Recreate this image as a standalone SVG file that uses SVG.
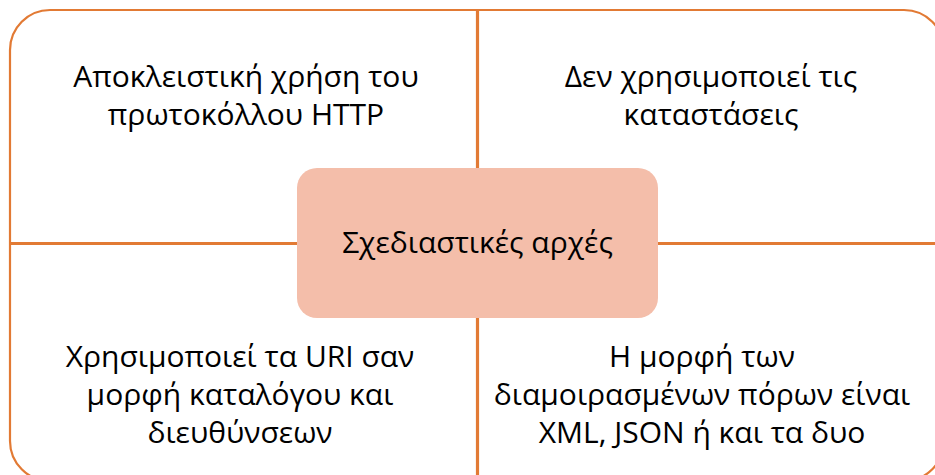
<svg xmlns="http://www.w3.org/2000/svg" width="935" height="475" viewBox="0 0 935 475">
  <style>
    .frame { fill: #FFFFFF; stroke: #E27A34; stroke-width: 2.2; }
    .divider { stroke: #E27A34; stroke-width: 3.2; fill: none; }
    .hub { fill: #F4BEAA; stroke: none; }
    .label { font-family: "Open Sans", "Noto Sans", sans-serif; font-size: 30px; fill: #000000; text-anchor: middle; }
  </style>

  <rect id="background" x="0" y="0" width="935" height="475" fill="#FFFFFF"/>

  <!-- outer frame of the 2x2 matrix -->
  <g id="frame">
    <rect class="frame" x="10" y="10" width="934" height="471" rx="40" ry="40"/>
  </g>

  <!-- quadrant dividers -->
  <g id="connectors">
    <line class="divider" x1="477.5" y1="10" x2="477.5" y2="481"/>
    <line class="divider" x1="10" y1="243.5" x2="944" y2="243.5"/>
  </g>

  <g id="q-top-left">
    <text class="label" x="246" y="87">Αποκλειστική χρήση του</text>
    <text class="label" x="246" y="125">πρωτοκόλλου HTTP</text>
  </g>

  <g id="q-top-right">
    <text class="label" x="711" y="87">Δεν χρησιμοποιεί τις</text>
    <text class="label" x="711" y="125">καταστάσεις</text>
  </g>

  <g id="q-bottom-left">
    <text class="label" x="240" y="367">Χρησιμοποιεί τα URI σαν</text>
    <text class="label" x="240" y="405">μορφή καταλόγου και</text>
    <text class="label" x="240" y="443">διευθύνσεων</text>
  </g>

  <g id="q-bottom-right">
    <text class="label" x="702" y="367">Η μορφή των</text>
    <text class="label" x="702" y="405">διαμοιρασμένων πόρων είναι</text>
    <text class="label" x="702" y="443">XML, JSON ή και τα δυο</text>
  </g>

  <!-- central hub -->
  <g id="hub">
    <rect class="hub" x="297" y="168" width="361" height="150" rx="20" ry="20"/>
    <text class="label" x="477.5" y="253">Σχεδιαστικές αρχές</text>
  </g>
</svg>
